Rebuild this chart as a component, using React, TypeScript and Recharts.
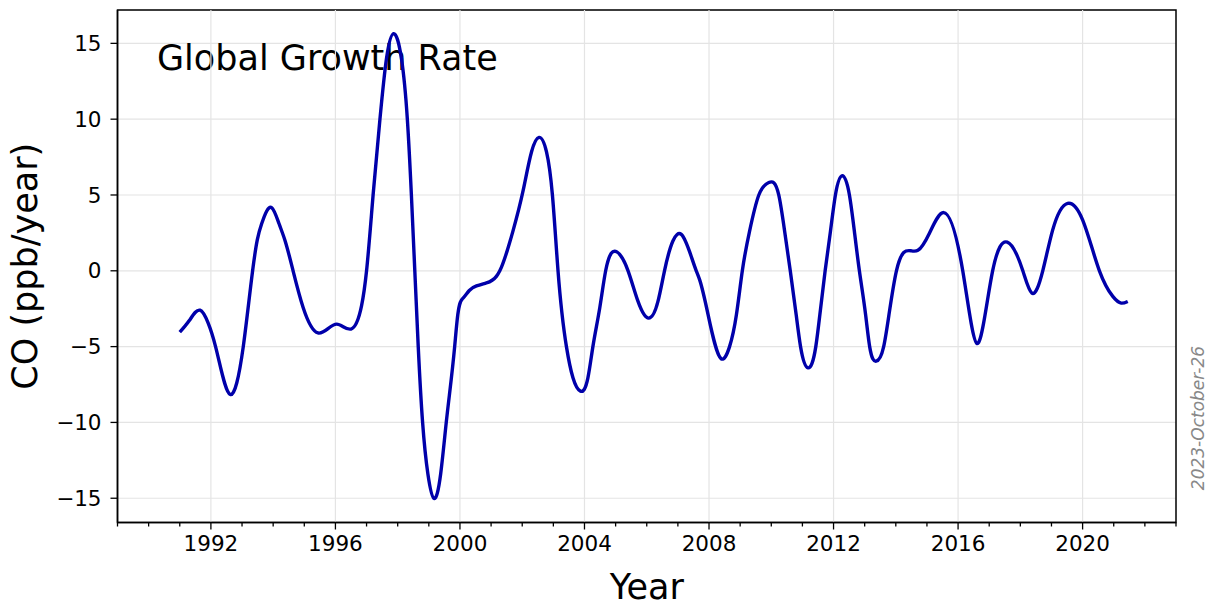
import React from 'react';
import {
  LineChart,
  Line,
  XAxis,
  YAxis,
  CartesianGrid,
  ReferenceLine,
  ReferenceArea,
  Label,
} from 'recharts';

// Global CO growth rate (ppb/year)
const years = [
  1991.0, 1991.3, 1991.65, 1991.91, 1992.15, 1992.62, 1993.04, 1993.34, 1993.49, 1993.63,
  1993.95, 1994.19, 1994.38, 1994.64, 1994.96, 1995.44, 1996.04, 1996.5, 1996.84, 1997.0,
  1997.21, 1997.43, 1997.64, 1997.87, 1998.12, 1998.31, 1998.44, 1998.55, 1998.66, 1998.8,
  1998.97, 1999.17, 1999.38, 1999.56, 1999.83, 1999.93, 2000.1, 2000.3, 2000.53, 2000.85,
  2001.17, 2001.28, 2001.7, 2002.03, 2002.3, 2002.54, 2002.78, 2002.97, 2003.15, 2003.42,
  2003.63, 2003.87, 2004.11, 2004.27, 2004.49, 2004.68, 2005.04, 2005.4, 2005.72, 2006.06,
  2006.36, 2006.57, 2007.11, 2007.59, 2007.7, 2008.39, 2008.66, 2008.88, 2009.07, 2009.3,
  2009.6, 2009.92, 2010.24, 2010.43, 2010.61, 2010.8, 2010.94, 2011.18, 2011.43, 2011.56,
  2011.73, 2011.9, 2012.06, 2012.28, 2012.51, 2012.67, 2012.83, 2013.03, 2013.16, 2013.37,
  2013.61, 2013.78, 2014.02, 2014.49, 2014.71, 2015.08, 2015.54, 2016.15, 2016.42, 2016.61,
  2016.82, 2017.11, 2017.58, 2018.08, 2018.37, 2018.72, 2019.04, 2019.52, 2020.0, 2020.54,
  2020.97, 2021.24, 2021.45,
];
const growth = [
  -4.05, -3.3, -2.6, -3.44, -5.0, -8.16, -5.0, 0, 2.04, 3.1,
  4.17, 3.1, 2.0, 0, -2.4, -4.1, -3.52, -3.84, -2.3, 0,
  5, 10, 14.0, 15.64, 14.0, 10, 5, 0, -5, -10,
  -13.4, -15.02, -13.4, -10, -5, -2.9, -1.8, -1.3, -1.0, -0.8,
  -0.37, 0, 2.6, 5.3, 7.85, 8.8, 7.85, 5, 0, -5,
  -7.06, -7.94, -7.06, -5, -2.45, 0, 1.25, 0, -2.02, -3.12,
  -2.02, 0, 2.4, 0, -0.6, -5.8, -5, -2.9, 0, 2.59,
  5, 5.82, 5, 2.59, 0, -2.9, -5, -6.4, -5, -2.9,
  0, 2.59, 5, 6.27, 5, 2.59, 0, -2.9, -5, -5.96,
  -5, -2.9, 0, 1.32, 1.35, 2.48, 3.84, 0, -3.45, -4.8,
  -3.45, 0, 1.89, 0, -1.47, 0, 2.7, 4.45, 3.36, 0,
  -1.69, -2.13, -2.02,
];

const yTicks = [-15, -10, -5, 0, 5, 10, 15];
const xMinorTicks = Array.from({ length: 35 }, (_, i) => 1989 + i);
const xMajorTicks = [1992, 1996, 2000, 2004, 2008, 2012, 2016, 2020];

const data = years.map((year, i) => ({ year, co: growth[i] }));

const FONT = '"DejaVu Sans", sans-serif';
const GRID = '#e4e4e4';

// natural cubic spline in x (y as a function of x), used as the line's curve
const splineX = (context: any) => {
  let xs: number[] = [];
  let ys: number[] = [];
  return {
    areaStart() {},
    areaEnd() {},
    lineStart() {
      xs = [];
      ys = [];
    },
    point(x: number, y: number) {
      xs.push(+x);
      ys.push(+y);
    },
    lineEnd() {
      const n = xs.length;
      if (!n) return;
      context.moveTo(xs[0], ys[0]);
      if (n < 3) {
        for (let i = 1; i < n; i++) context.lineTo(xs[i], ys[i]);
        return;
      }
      const h = xs.slice(1).map((x, i) => x - xs[i]);
      const M = new Array(n).fill(0);
      const c = new Array(n).fill(0);
      const d = new Array(n).fill(0);
      for (let i = 1; i < n - 1; i++) {
        const a = h[i - 1];
        const b = 2 * (h[i - 1] + h[i]);
        const r = 6 * ((ys[i + 1] - ys[i]) / h[i] - (ys[i] - ys[i - 1]) / h[i - 1]);
        const m = b - a * c[i - 1];
        c[i] = h[i] / m;
        d[i] = (r - a * d[i - 1]) / m;
      }
      for (let i = n - 2; i >= 1; i--) M[i] = d[i] - c[i] * M[i + 1];
      for (let i = 0; i < n - 1; i++) {
        const hi = h[i];
        const s = (ys[i + 1] - ys[i]) / hi;
        const d0 = s - (hi * (2 * M[i] + M[i + 1])) / 6;
        const d1 = s + (hi * (M[i] + 2 * M[i + 1])) / 6;
        context.bezierCurveTo(
          xs[i] + hi / 3,
          ys[i] + (d0 * hi) / 3,
          xs[i + 1] - hi / 3,
          ys[i + 1] - (d1 * hi) / 3,
          xs[i + 1],
          ys[i + 1],
        );
      }
    },
  };
};

const XTick = (props: any) => {
  const { x, y, payload } = props;
  const major = xMajorTicks.includes(payload.value);
  return (
    <g>
      <line x1={x} x2={x} y1={y} y2={y + (major ? 7 : 4)} stroke="#000" strokeWidth={1.3} />
      {major && (
        <text x={x} y={y + 28} textAnchor="middle" fontSize={21.5} fontFamily={FONT} fill="#000">
          {payload.value}
        </text>
      )}
    </g>
  );
};

export default function App() {
  return (
    <div style={{ position: 'absolute', left: 0, top: 0, background: '#fff' }}>
      <LineChart width={1208} height={605} data={data} margin={{ top: 10, right: 32, bottom: 0, left: 0 }}>
        <CartesianGrid vertical={false} stroke={GRID} strokeWidth={1.2} />
        {xMajorTicks.map((t) => (
          <ReferenceLine key={t} x={t} stroke={GRID} strokeWidth={1.2} />
        ))}
        <XAxis
          dataKey="year"
          type="number"
          domain={[1989, 2023]}
          ticks={xMinorTicks}
          interval={0}
          allowDataOverflow
          height={82.5}
          tickSize={0}
          tickMargin={0}
          tickLine={false}
          tick={<XTick />}
          axisLine={{ stroke: '#000', strokeWidth: 1.5 }}
        >
          <Label
            content={({ viewBox }: any) => (
              <text
                x={viewBox.x + viewBox.width / 2}
                y={viewBox.y + 76}
                textAnchor="middle"
                fontSize={35}
                fontFamily={FONT}
                fill="#000"
              >
                Year
              </text>
            )}
          />
        </XAxis>
        <YAxis
          type="number"
          domain={[-16.6, 17.2]}
          ticks={yTicks}
          allowDataOverflow
          width={117.5}
          tickSize={7}
          tickMargin={9}
          tickFormatter={(v: number) => String(v).replace('-', '\u2212')}
          tick={{ fontSize: 21.5, fontFamily: FONT, fill: '#000' }}
          tickLine={{ stroke: '#000', strokeWidth: 1.3 }}
          axisLine={{ stroke: '#000', strokeWidth: 1.5 }}
        >
          <Label
            content={({ viewBox }: any) => (
              <text
                transform={`translate(37, ${viewBox.y + viewBox.height / 2}) rotate(-90)`}
                textAnchor="middle"
                fontSize={35}
                fontFamily={FONT}
                fill="#000"
              >
                CO (ppb/year)
              </text>
            )}
          />
        </YAxis>
        <Line
          type={splineX as any}
          dataKey="co"
          stroke="#0000aa"
          strokeWidth={3.4}
          dot={false}
          activeDot={false}
          isAnimationActive={false}
        />
        <ReferenceArea
          x1={1989}
          x2={2023}
          y1={-16.6}
          y2={17.2}
          fill="none"
          fillOpacity={0}
          stroke="#000"
          strokeWidth={1.5}
          ifOverflow="visible"
        >
          <Label
            content={({ viewBox }: any) => (
              <g>
                <text x={viewBox.x + 39.5} y={viewBox.y + 60} fontSize={35} fontFamily={FONT} fill="#000">
                  Global Growth Rate
                </text>
                <text
                  transform={`translate(${viewBox.x + viewBox.width + 27.5}, 418) rotate(-90)`}
                  textAnchor="middle"
                  fontSize={17}
                  fontStyle="italic"
                  fontFamily={FONT}
                  fill="#888"
                >
                  2023-October-26
                </text>
              </g>
            )}
          />
        </ReferenceArea>
      </LineChart>
    </div>
  );
}
